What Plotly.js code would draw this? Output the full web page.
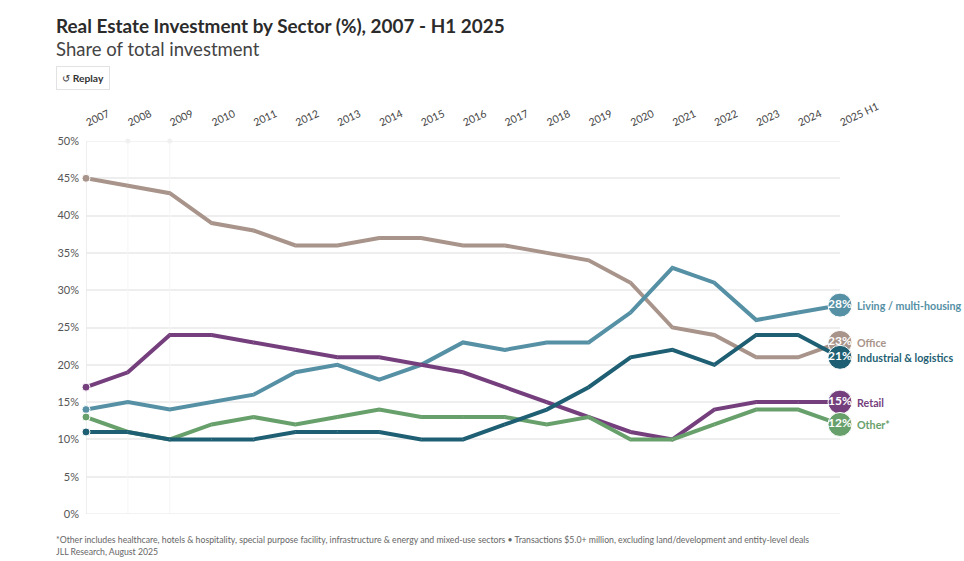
<!DOCTYPE html>
<html><head><meta charset="utf-8">
<script src="https://cdn.plot.ly/plotly-3.0.1.min.js"></script>
<style>html,body{margin:0;padding:0;background:#fff}#c{width:964px;height:561px}</style>
</head><body><div id="c"></div>
<script>
const years=["2007","2008","2009","2010","2011","2012","2013","2014","2015","2016","2017","2018","2019","2020","2021","2022","2023","2024","2025 H1"];
const office=[45,44,43,39,38,36,36,37,37,36,36,35,34,31,25,24,21,21,23];
const living=[14,15,14,15,16,19,20,18,20,23,22,23,23,27,33,31,26,27,28];
const industrial=[11,11,10,10,10,11,11,11,10,10,12,14,17,21,22,20,24,24,21];
const retail=[17,19,24,24,23,22,21,21,20,19,17,15,13,11,10,14,15,15,15];
const other=[13,11,10,12,13,12,13,14,13,13,13,12,13,10,10,12,14,14,12];
const seriesNames=["Office","Living / multi-housing","Retail","Other*","Industrial & logistics"];
const seriesValues=[office,living,retail,other,industrial];
const seriesColors=["#a8948a","#5590a5","#753f7d","#68a06c","#1f5f73"];
const FONT='Lato, "Noto Sans", sans-serif';
const n=years.length;
const guide=(x,y,color,width,mode,size)=>({type:'scatter',mode:mode||'lines',x,y,line:{color,width},
  marker:{color,size:size||5},cliponaxis:false,hoverinfo:'skip',showlegend:false});
const guides=[
  guide(["2007","2007"],[0,50],'#e8e8e8',1.5),
  guide(["2008","2008"],[0,50],'#f5f5f5',1),
  guide(["2009","2009"],[0,50],'#f5f5f5',1),
  guide([years[0],years[n-1]],[0,0],'#eeeeee',1.5),
  guide([years[0],years[n-1]],[50,50],'#eeeeee',1.5),
  {type:'scatter',mode:'markers',x:["2008","2009"],y:[50,50],marker:{color:'#f0f0f0',size:5},cliponaxis:false,hoverinfo:'skip',showlegend:false}
];
const traces=guides.concat(seriesNames.map((name,i)=>({
  type:'scatter',mode:'lines+markers+text',name,x:years,y:seriesValues[i],
  line:{color:seriesColors[i],width:4},
  marker:{color:seriesColors[i],opacity:1,size:years.map((_,k)=>k===0?8:(k===n-1?24:0.1))},
  text:years.map((_,k)=>k===n-1?seriesValues[i][k]+'%':''),
  textposition:'middle center',
  textfont:{family:FONT,size:12,color:'#fff',weight:700},
  cliponaxis:false,hoverinfo:'skip',showlegend:false
})));
const labels=seriesNames.map((name,i)=>({
  xref:'x',yref:'y',x:years[n-1],y:seriesValues[i][n-1],xshift:15,xanchor:'left',yanchor:'middle',
  showarrow:false,text:'<b>'+name+'</b>',font:{family:FONT,size:10.7,color:seriesColors[i]}
}));
const paperText=(text,px,py,size,color)=>({
  xref:'paper',yref:'paper',x:(px-86)/754,y:(514-py)/373,xanchor:'left',yanchor:'middle',
  showarrow:false,align:'left',text,font:{family:FONT,size,color}
});
const layout={
  width:964,height:561,margin:{l:86,r:124,t:141,b:47},
  paper_bgcolor:'#fff',plot_bgcolor:'#fff',showlegend:false,
  font:{family:FONT,color:'#444'},
  title:{text:'<b>Real Estate Investment by Sector (%), 2007 - H1 2025</b>',x:56/964,xanchor:'left',y:1-26/561,yanchor:'middle',font:{family:FONT,size:18.9,color:'#2b2b2b'}},
  xaxis:{type:'category',categoryorder:'array',categoryarray:years,range:[0,n-1],side:'top',anchor:'y',tickangle:-25,ticklabelstandoff:11,
    showgrid:false,zeroline:false,showline:false,ticks:'',tickfont:{family:FONT,size:10.5,color:'#444'}},
  yaxis:{range:[0,50],dtick:5,ticksuffix:'%',gridcolor:'#eeeeee',gridwidth:1.5,zeroline:false,showline:false,ticks:'',ticklabelstandoff:6,
    tickfont:{family:FONT,size:11,color:'#555'}},
  annotations:labels.concat([
    paperText('Share of total investment',54,49,18.5,'#444'),
    paperText('*Other includes healthcare, hotels &amp; hospitality, special purpose facility, infrastructure &amp; energy and mixed-use sectors • Transactions $5.0+ million, excluding land/development and entity-level deals',54,539,8.7,'#666'),
    paperText('JLL Research, August 2025',54,551,8.7,'#666'),
    {xref:'paper',yref:'paper',x:(56-86)/754,y:(514-78)/373,xanchor:'left',yanchor:'middle',showarrow:false,
     text:'↺ <b>Replay</b>',font:{family:FONT,size:10.3,color:'#333'},bordercolor:'#e2e2e2',borderwidth:1,borderpad:5,bgcolor:'#fff'}
  ])
};
Plotly.newPlot('c',traces,layout,{displayModeBar:false,responsive:false});
</script></body></html>
